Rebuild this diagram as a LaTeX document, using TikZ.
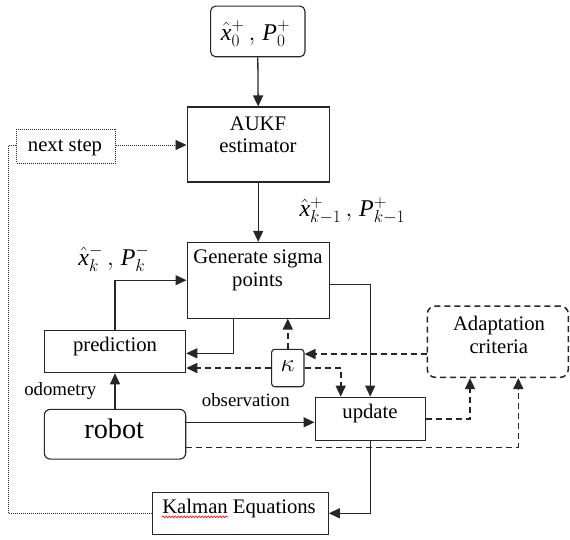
\documentclass[tikz,border=0pt]{standalone}
\usepackage{fontspec}
\setmainfont{Liberation Serif}
\usetikzlibrary{arrows.meta,decorations.pathmorphing}
\begin{document}
\begin{tikzpicture}[x=1pt,y=-1pt,
  box/.style={draw=black!85, line width=1.1pt, inner sep=0pt},
  rbox/.style={box, rounded corners=#1},
  dbox/.style={box, line width=1.5pt, dash pattern=on 6pt off 4pt, rounded corners=8pt},
  ptbox/.style={box, line width=0.9pt, dash pattern=on 1pt off 1pt},
  txt/.style={font=\fontsize{20.7}{24}\selectfont, inner sep=0pt, anchor=base},
  lbl/.style={font=\fontsize{18.8}{22}\selectfont, inner sep=0pt, anchor=base},
  mth/.style={font=\fontsize{24}{28}\selectfont, inner sep=0pt, anchor=base},
  arr/.style={draw=black!85, line width=1.3pt, -{Triangle[length=11pt,width=10pt]}},
  darr/.style={arr, line width=1.6pt, dash pattern=on 6pt off 4pt},
  ptarr/.style={arr, line width=0.9pt, dash pattern=on 1pt off 1pt},
  ptline/.style={draw=black!85, line width=0.9pt, dash pattern=on 1pt off 1pt}]
\useasboundingbox (0,0) rectangle (570,539);
% boxes
\node[rbox=5pt, minimum width=94.3pt, minimum height=50.7pt] (init) at (257.8,31.4) {};
\node[box, minimum width=142.3pt, minimum height=75pt] (aukf) at (258.2,144.5) {};
\node[ptbox, minimum width=99pt, minimum height=34pt] (next) at (66.2,146.3) {};
\node[box, minimum width=142.3pt, minimum height=75.7pt] (gen) at (258.2,280.2) {};
\node[box, minimum width=141.4pt, minimum height=42.7pt] (pred) at (115,351.4) {};
\node[rbox=3pt, minimum width=32.3pt, minimum height=37.4pt] (kap) at (287.8,368) {};
\node[dbox, minimum width=141pt, minimum height=71.3pt] (adapt) at (497.8,341.7) {};
\node[box, minimum width=110.3pt, minimum height=43.7pt] (upd) at (370.2,419) {};
\node[rbox=6pt, minimum width=141.4pt, minimum height=49.7pt] (robot) at (115,434.2) {};
\node[box, minimum width=175.6pt, minimum height=42pt] (kal) at (240.5,513.3) {};
% texts
\node[mth] (t0) at (255.5,40) {$\hat{\mathit{x}}_{0}^{+}\,{,}\;\mathit{P}_{0}^{+}$};
\node[txt] (ta1) at (258,130) {AUKF};
\node[txt] (ta2) at (258,152) {estimator};
\node[txt] (tn) at (65,151.7) {next step};
\node[txt] (tg1) at (258,263.5) {Generate sigma};
\node[txt] (tg2) at (257.5,286) {points};
\node[txt] (tp) at (115,351.7) {prediction};
\node[font=\fontsize{23}{26}\selectfont, inner sep=0pt] (tk) at (287.7,366.5) {$\kappa$};
\node[txt] (tad1) at (499,330.7) {Adaptation};
\node[txt] (tad2) at (498.8,353.3) {criteria};
\node[txt] (tu) at (370,418) {update};
\node[font=\fontsize{28.3}{32}\selectfont, inner sep=0pt, anchor=base] (tr) at (114.2,438.3) {robot};
\node[txt] (tkal) at (239,513.3) {Kalman Equations};
\node[lbl] (todo) at (60.3,395) {odometry};
\node[lbl] (tobs) at (245.8,406.7) {observation};
\node[mth, anchor=base west] (tkm1) at (299.3,216.7) {$\hat{\mathit{x}}_{k-1}^{+}\,{,}\;\mathit{P}_{k-1}^{+}$};
\node[mth, anchor=base west] (tkk) at (78.2,265) {$\hat{\mathit{x}}_{k}^{-}\,{,}\;\mathit{P}_{k}^{-}$};
\draw[red, line width=0.6pt, decorate, decoration={snake, amplitude=0.9pt, segment length=3pt}]
  (162.3,516.8) -- (228.3,516.8);
% connectors
\draw[arr] (init.south) -- (aukf.north);
\draw[ptarr] ([yshift=1.3pt]next.east) -- ([yshift=1.3pt]next.east -| aukf.west);
\draw[arr] (aukf.south) -- (gen.north);
\draw[arr] (pred.north) |- (gen.west);
\draw[arr] ([xshift=-24.9pt]gen.south) |- ([yshift=-1.9pt]pred.east);
\draw[darr] (kap.north) -- (kap.north |- gen.south);
\draw[darr] (kap.west) -- (kap.west -| pred.east);
\draw[darr] (kap.east) -| ([xshift=-29.5pt]upd.north);
\draw[arr] ([yshift=-4.1pt]gen.east) -| (upd.north);
\draw[darr] ([yshift=-12.3pt]adapt.west) -- ([yshift=-12.3pt]adapt.west -| kap.east);
\draw[arr] (robot.north) -- (pred.south);
\draw[arr] ([yshift=11.9pt]robot.east) -- ([yshift=11.9pt]robot.east -| upd.west);
\draw[darr] ([yshift=-13.1pt]robot.east) -| ([xshift=20.5pt]adapt.south);
\draw[darr] (upd.east) -| ([xshift=-27.8pt]adapt.south);
\draw[arr] (upd.south) |- (kal.east);
\draw[ptline] ([yshift=1.3pt]next.west) -- ++(-7.5,0) |- (kal.west);
\end{tikzpicture}
\end{document}
